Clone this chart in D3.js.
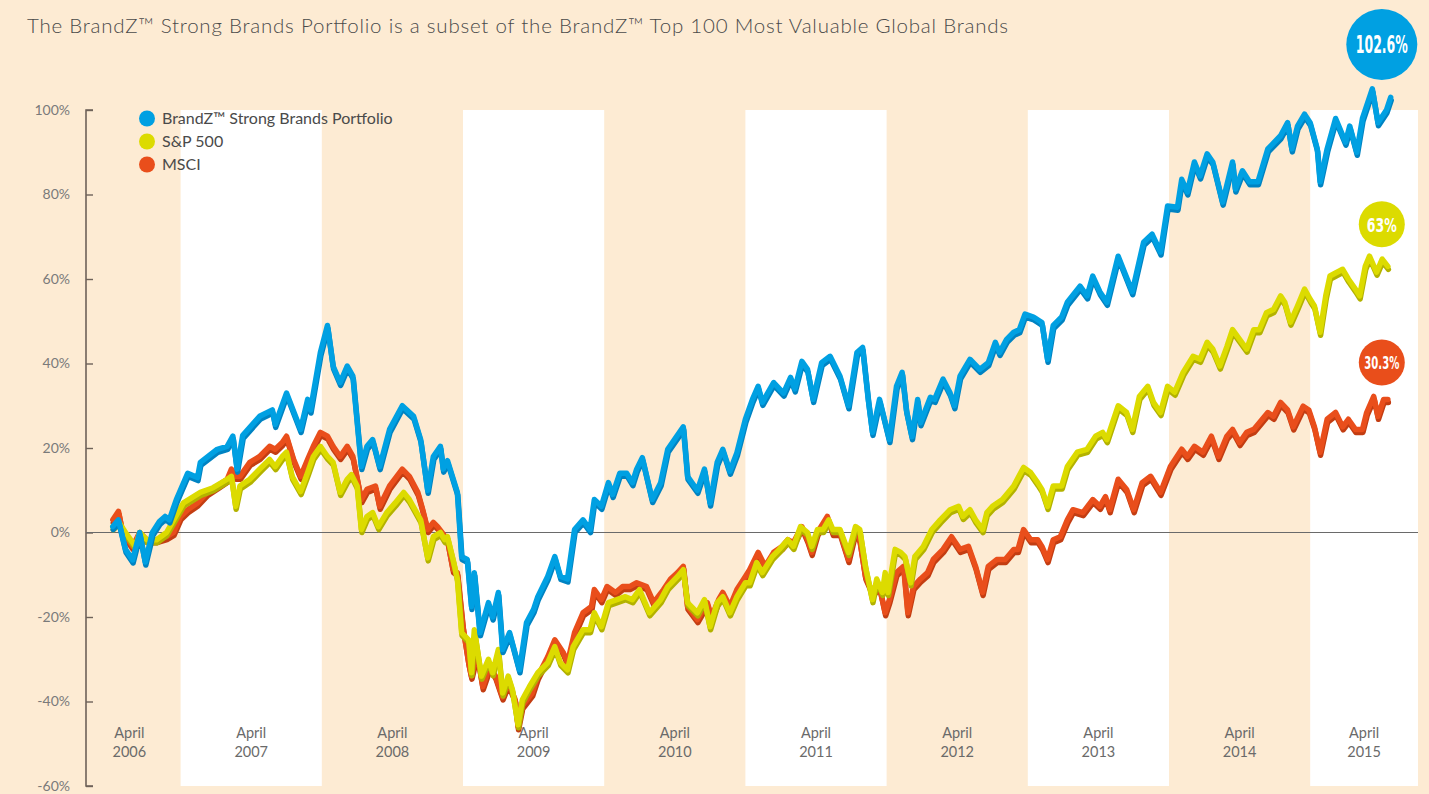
<!DOCTYPE html>
<html>
<head>
<meta charset="utf-8">
<script src="https://cdn.jsdelivr.net/npm/d3@7"></script>
<style>
  body { margin: 0; background: #fdebd3; }
  svg { display: block; }
</style>
</head>
<body>
<svg id="chart"></svg>
<script>
const title = "The BrandZ\u2122 Strong Brands Portfolio is a subset of the BrandZ\u2122 Top 100 Most Valuable Global Brands";

const yearLabels = [2006, 2007, 2008, 2009, 2010, 2011, 2012, 2013, 2014, 2015];
const whiteYears = [2007, 2009, 2011, 2013, 2015];
const yTicks = [100, 80, 60, 40, 20, 0, -20, -40, -60];

// [decimal year, % change since April 2006]
const brandz = [
  [2006.27,1.4],[2006.31,3],[2006.36,-4],[2006.41,-6.5],[2006.46,0],[2006.50,-7],[2006.55,0],[2006.60,2.6],
  [2006.64,3.8],[2006.67,3],[2006.72,7.8],[2006.80,14],[2006.87,13],[2006.89,16.6],[2007.01,19.7],[2007.08,20.4],
  [2007.12,22.8],[2007.15,15],[2007.19,23],[2007.31,27.5],[2007.40,29],[2007.42,25.6],[2007.50,33],[2007.60,24.4],
  [2007.65,31.5],[2007.67,29],[2007.74,42.6],[2007.79,49],[2007.83,39.4],[2007.88,35.5],[2007.93,39.4],[2007.97,37],
  [2008.03,15.6],[2008.07,20.4],[2008.11,22],[2008.16,15.6],[2008.23,24.4],[2008.32,30],[2008.40,27.5],[2008.45,22],
  [2008.50,10],[2008.54,18],[2008.59,20.4],[2008.61,15],[2008.64,17],[2008.71,9.5],[2008.74,-5.7],[2008.78,-6.4],
  [2008.81,-17.5],[2008.83,-9.5],[2008.87,-23.7],[2008.93,-16.6],[2008.96,-20],[2009.00,-14.2],[2009.03,-27.7],[2009.08,-23.7],
  [2009.15,-32.5],[2009.20,-21.3],[2009.25,-18.2],[2009.28,-15.2],[2009.35,-10.4],[2009.40,-5.7],[2009.44,-10.4],[2009.49,-11],
  [2009.54,0.7],[2009.60,3],[2009.65,0.7],[2009.68,7.8],[2009.73,6.2],[2009.78,11.8],[2009.81,9],[2009.86,14],
  [2009.91,14],[2009.95,11.8],[2009.98,15],[2010.02,17.7],[2010.09,7.8],[2010.15,11.8],[2010.20,19.7],[2010.31,25],
  [2010.34,13.3],[2010.41,10],[2010.46,15],[2010.50,7],[2010.55,16.6],[2010.59,19.7],[2010.64,14.5],[2010.69,18.9],
  [2010.75,26.8],[2010.80,31.5],[2010.84,34.6],[2010.87,30.8],[2010.95,35.5],[2011.02,33],[2011.07,36.7],[2011.10,34],
  [2011.15,40.5],[2011.19,38.6],[2011.23,31.5],[2011.29,40.2],[2011.35,41.7],[2011.42,37],[2011.48,30],[2011.54,42.6],
  [2011.58,43.8],[2011.62,31.5],[2011.65,23.7],[2011.70,31.5],[2011.77,22],[2011.82,34.6],[2011.86,37.9],[2011.89,29],
  [2011.93,22.7],[2011.97,31.5],[2011.99,26],[2012.06,32],[2012.09,31.5],[2012.15,36.3],[2012.20,33],[2012.23,30],
  [2012.27,37],[2012.34,41],[2012.41,38.6],[2012.47,40.2],[2012.52,45],[2012.55,42.6],[2012.60,45.7],[2012.65,47.4],
  [2012.69,48],[2012.73,51.7],[2012.79,51],[2012.85,49.7],[2012.89,41],[2012.93,49],[2012.99,51],[2013.03,54.5],
  [2013.12,58.3],[2013.17,56],[2013.21,60.7],[2013.26,57],[2013.31,54.5],[2013.39,65.4],[2013.49,57],[2013.57,68.7],
  [2013.63,70.6],[2013.69,66.4],[2013.74,77.3],[2013.81,77],[2013.84,83.6],[2013.88,80.6],[2013.93,87.7],[2013.97,84.4],
  [2014.02,89.6],[2014.06,87.7],[2014.13,78.2],[2014.20,87.7],[2014.22,81.3],[2014.27,85.6],[2014.32,83],[2014.38,83],
  [2014.45,90.8],[2014.54,93.9],[2014.59,97],[2014.62,90.8],[2014.66,96.2],[2014.71,99],[2014.75,97],[2014.80,90.8],
  [2014.82,83],[2014.87,90.8],[2014.93,98],[2015.00,92.4],[2015.03,96.2],[2015.08,90],[2015.12,98],[2015.19,105],
  [2015.23,97],[2015.29,100],[2015.32,103]
];

const sp500 = [
  [2006.27,1.4],[2006.31,2.6],[2006.36,0],[2006.43,-3.3],[2006.46,0],[2006.51,-1.7],[2006.58,-1.7],[2006.65,0],
  [2006.77,7],[2006.89,9.5],[2006.98,10.6],[2007.08,12.6],[2007.11,13.3],[2007.14,6.2],[2007.17,11],[2007.24,12.6],
  [2007.31,15],[2007.38,17.3],[2007.42,15.6],[2007.47,18],[2007.50,19],[2007.54,13.3],[2007.60,9.7],[2007.65,14.2],
  [2007.69,18],[2007.74,20.4],[2007.79,18],[2007.83,16.6],[2007.88,9.5],[2007.93,12.6],[2007.96,13.7],[2008.00,11],
  [2008.03,0.7],[2008.07,3.8],[2008.11,4.7],[2008.15,1.4],[2008.21,4.7],[2008.27,7],[2008.33,9.5],[2008.37,7.8],
  [2008.45,3],[2008.50,-6],[2008.54,-1],[2008.59,0],[2008.62,-1.7],[2008.64,-1],[2008.68,-6.4],[2008.71,-11],
  [2008.74,-23.7],[2008.79,-25.4],[2008.81,-33.2],[2008.83,-23],[2008.88,-34],[2008.93,-30],[2008.96,-33.2],[2009.00,-27.7],
  [2009.03,-38],[2009.07,-34],[2009.10,-37.2],[2009.14,-45.5],[2009.17,-39.6],[2009.22,-36.5],[2009.28,-33.2],[2009.35,-30.8],
  [2009.40,-27],[2009.44,-30.8],[2009.49,-32.5],[2009.53,-27],[2009.60,-23],[2009.65,-23],[2009.68,-19],[2009.73,-22.3],
  [2009.78,-16.6],[2009.84,-15.9],[2009.90,-15.2],[2009.95,-15.9],[2010.00,-13.5],[2010.07,-19],[2010.15,-15.9],[2010.20,-12.8],
  [2010.27,-10.4],[2010.31,-8.8],[2010.34,-16.6],[2010.41,-19],[2010.46,-15.9],[2010.50,-22.3],[2010.55,-16.6],[2010.59,-15.2],
  [2010.64,-19],[2010.69,-15.2],[2010.75,-11.9],[2010.78,-11.9],[2010.83,-7.1],[2010.87,-9.5],[2010.94,-5.7],[2010.99,-4],
  [2011.05,-1.7],[2011.09,-3.3],[2011.14,1.4],[2011.19,0],[2011.22,-3.3],[2011.26,0.7],[2011.30,0.7],[2011.34,3],
  [2011.37,0.7],[2011.42,0.7],[2011.48,-4.7],[2011.53,1.4],[2011.56,0.7],[2011.60,-8],[2011.65,-15.9],[2011.68,-11],
  [2011.72,-14.2],[2011.74,-9.5],[2011.76,-14.2],[2011.81,-4],[2011.85,-4.7],[2011.88,-5.7],[2011.92,-11.9],[2011.95,-5.7],
  [2012.01,-3.3],[2012.07,0.7],[2012.13,3],[2012.20,5.4],[2012.26,6.2],[2012.29,3.8],[2012.34,5.4],[2012.38,3],
  [2012.43,0.7],[2012.46,4.7],[2012.50,6.2],[2012.57,7.8],[2012.65,11],[2012.72,15.4],[2012.77,14.2],[2012.82,11.8],
  [2012.85,10.2],[2012.89,6.2],[2012.93,11],[2012.99,11],[2013.03,15.6],[2013.10,19],[2013.17,19.7],[2013.23,22.8],
  [2013.28,23.7],[2013.31,22],[2013.35,26],[2013.39,30],[2013.45,28.4],[2013.49,24.4],[2013.54,32.2],[2013.60,34.6],
  [2013.64,30.8],[2013.69,28.4],[2013.74,34.6],[2013.79,33.2],[2013.85,37.9],[2013.92,41.7],[2013.97,41],[2014.02,45],
  [2014.06,43.4],[2014.11,39.4],[2014.16,44],[2014.20,48],[2014.25,45.7],[2014.30,43.4],[2014.35,48],[2014.39,48],
  [2014.44,52],[2014.49,52.8],[2014.54,56],[2014.57,54.5],[2014.61,49.8],[2014.66,53.6],[2014.71,57.6],[2014.75,55.2],
  [2014.78,53.6],[2014.82,47.4],[2014.86,56],[2014.89,60.7],[2014.94,61.6],[2014.98,62.3],[2015.02,60],[2015.07,57.6],
  [2015.10,56],[2015.14,63],[2015.17,65.4],[2015.22,61.6],[2015.26,64.7],[2015.30,63]
];

const msci = [
  [2006.27,3],[2006.31,5],[2006.34,0],[2006.41,-3.3],[2006.46,0],[2006.51,-1.7],[2006.58,-1.7],[2006.65,-1],
  [2006.70,0],[2006.75,3.8],[2006.80,5.4],[2006.87,7],[2006.94,9.5],[2007.01,11],[2007.08,12.6],[2007.11,15],
  [2007.14,13.3],[2007.17,13.3],[2007.24,16.6],[2007.31,18],[2007.38,20.4],[2007.42,19.7],[2007.47,21.3],[2007.50,22.8],
  [2007.55,17.3],[2007.60,13.3],[2007.65,17.3],[2007.69,20.4],[2007.74,23.7],[2007.79,22.8],[2007.83,20.4],[2007.88,18],
  [2007.93,20.4],[2007.97,18],[2008.03,7.8],[2008.07,10.2],[2008.13,11],[2008.16,6.2],[2008.23,11],[2008.32,15],
  [2008.37,13.3],[2008.43,9.5],[2008.46,6],[2008.50,0.7],[2008.54,2.4],[2008.57,1.4],[2008.64,-1.7],[2008.68,-8.8],
  [2008.71,-9.5],[2008.75,-22.3],[2008.79,-30.8],[2008.81,-34],[2008.85,-28.4],[2008.89,-36.5],[2008.94,-31.6],[2008.98,-34],
  [2009.03,-38.9],[2009.07,-35.6],[2009.12,-39.6],[2009.14,-46],[2009.17,-41],[2009.24,-38],[2009.28,-34],[2009.35,-29.4],
  [2009.40,-25.4],[2009.46,-28.4],[2009.49,-30.8],[2009.54,-23.7],[2009.60,-19],[2009.66,-17.5],[2009.68,-13.5],[2009.73,-15.9],
  [2009.77,-12.8],[2009.83,-14.2],[2009.88,-12.8],[2009.93,-12.8],[2009.98,-11.9],[2010.05,-12.8],[2010.10,-16.6],[2010.17,-13.5],
  [2010.22,-11],[2010.27,-9.5],[2010.31,-8],[2010.34,-17.5],[2010.41,-20.6],[2010.48,-16.6],[2010.51,-20],[2010.56,-15.9],
  [2010.59,-14.2],[2010.64,-17.5],[2010.69,-13.5],[2010.75,-10.4],[2010.78,-8.8],[2010.84,-4.7],[2010.89,-8],[2010.95,-4.7],
  [2011.01,-3.3],[2011.05,-1.7],[2011.09,-2.4],[2011.15,1.4],[2011.19,-1.7],[2011.22,-4.7],[2011.26,0],[2011.33,3.8],
  [2011.37,0],[2011.42,0],[2011.48,-6.4],[2011.53,0.7],[2011.56,-1.7],[2011.60,-10.4],[2011.65,-14.2],[2011.70,-12.8],
  [2011.74,-19],[2011.77,-15.9],[2011.82,-9.5],[2011.87,-8],[2011.90,-19],[2011.94,-12.8],[2011.99,-11],[2012.04,-9.5],
  [2012.08,-6.4],[2012.15,-4],[2012.21,-1],[2012.27,-4],[2012.33,-3.3],[2012.38,-8],[2012.43,-14.2],[2012.47,-8],
  [2012.53,-6.4],[2012.59,-6.4],[2012.65,-4],[2012.68,-4],[2012.72,0.7],[2012.77,-1.7],[2012.82,-1.7],[2012.85,-3.3],
  [2012.89,-6.4],[2012.93,-1.7],[2012.98,-1],[2013.03,3],[2013.07,5.4],[2013.14,4.7],[2013.21,7.8],[2013.26,6.2],
  [2013.30,8.5],[2013.33,5.4],[2013.39,12.6],[2013.45,10.2],[2013.50,5.4],[2013.56,11.8],[2013.62,13.3],[2013.69,9.5],
  [2013.76,15.6],[2013.84,19.7],[2013.88,18],[2013.93,20.4],[2013.99,19],[2014.05,22.8],[2014.10,18],[2014.16,22.8],
  [2014.20,24.4],[2014.25,21.3],[2014.30,23.7],[2014.35,24.4],[2014.39,26],[2014.45,28.4],[2014.49,27.5],[2014.54,30.8],
  [2014.59,29],[2014.63,25],[2014.70,29.9],[2014.74,29],[2014.78,25],[2014.82,19],[2014.87,26.8],[2014.93,28.4],
  [2014.98,25],[2015.02,26.8],[2015.07,24.4],[2015.12,24.4],[2015.15,28.4],[2015.20,32.2],[2015.23,27.5],[2015.27,31.5],
  [2015.30,31.5]
];

const seriesNames = ["BrandZ\u2122 Strong Brands Portfolio", "S&P 500", "MSCI"];
const finalLabels = ["102.6%", "63%", "30.3%"];
const finalValues = [102.6, 63, 30.3];

const width = 1429, height = 794;
const plotLeft = 86, plotRight = 1418, plotTop = 110, plotBottom = 786;

const series = [
  { name: seriesNames[0], data: brandz, color: "#00a0e2", shadow: "#0083c2", label: finalLabels[0], value: finalValues[0], r: 35.5, fs: 24, tw: 52 },
  { name: seriesNames[1], data: sp500,  color: "#dcdb00", shadow: "#b3b200", label: finalLabels[1], value: finalValues[1], r: 23, fs: 20, tw: 30 },
  { name: seriesNames[2], data: msci,   color: "#e94e1b", shadow: "#c33d12", label: finalLabels[2], value: finalValues[2], r: 23, fs: 18, tw: 35 }
];

const svg = d3.select("#chart")
              .attr("width", width)
              .attr("height", height)
              .style("background-color", "#fdebd3");

const x = d3.scaleLinear().domain([2006.25, 2015.25]).range([110, 1380.8]);
const y = d3.scaleLinear().domain([-60, 100]).range([plotBottom, plotTop]);

// title
svg.append("text")
   .attr("x", 27).attr("y", 33)
   .attr("font-family", "Lato, sans-serif")
   .attr("font-weight", 300)
   .attr("font-size", 20.5)
   .attr("fill", "#4a4a4a")
   .attr("textLength", 981)
   .attr("lengthAdjust", "spacing")
   .text(title);

// white year bands
svg.append("g")
   .selectAll("rect")
   .data(whiteYears)
   .enter().append("rect")
           .attr("x", d => x(d - 0.25))
           .attr("width", d => Math.min(plotRight, x(d + 0.75)) - x(d - 0.25))
           .attr("y", plotTop)
           .attr("height", plotBottom - plotTop)
           .attr("fill", "#ffffff");

// year labels, centred in the visible part of each band
const labelX = d => (Math.max(plotLeft - 8, x(d - 0.25)) + Math.min(plotRight, x(d + 0.75))) / 2;
const xl = svg.append("g")
              .attr("font-family", "Lato, sans-serif")
              .attr("font-size", 14.5)
              .attr("fill", "#6a6a6a")
              .attr("text-anchor", "middle");
xl.selectAll(".m").data(yearLabels).enter().append("text")
  .attr("x", labelX).attr("y", 738).text("April");
xl.selectAll(".yr").data(yearLabels).enter().append("text")
  .attr("x", labelX).attr("y", 757).text(d => d);

// y axis
const yAxis = svg.append("g")
                 .attr("transform", `translate(${plotLeft},0)`)
                 .call(d3.axisRight(y).tickValues(yTicks).tickSize(7).tickFormat(d => d + "%"));
yAxis.select(".domain").attr("stroke", "#6e6259").attr("stroke-width", 1.6)
     .attr("d", `M7,${plotTop}H0V${plotBottom}H7`);
yAxis.selectAll(".tick line").attr("stroke", "#6e6259").attr("stroke-width", 1.4);
yAxis.selectAll(".tick text")
     .attr("x", -16).attr("text-anchor", "end")
     .attr("font-family", "Lato, sans-serif").attr("font-size", 14)
     .attr("fill", "#7a7a7a");

// zero line
svg.append("line")
   .attr("x1", plotLeft).attr("x2", plotRight)
   .attr("y1", y(0)).attr("y2", y(0))
   .attr("stroke", "#6a6a6a").attr("stroke-width", 1.2);

const line = d3.line().x(d => x(d[0])).y(d => y(d[1]));

// draw MSCI first, then S&P, then BrandZ on top
const drawOrder = [series[2], series[1], series[0]];
const lines = svg.append("g");
drawOrder.forEach(s => {
  lines.append("path")
       .datum(s.data)
       .attr("d", line)
       .attr("transform", "translate(0.5,3)")
       .attr("fill", "none")
       .attr("stroke", s.shadow)
       .attr("stroke-width", 5.5)
       .attr("stroke-linejoin", "round")
       .attr("stroke-linecap", "round");
  lines.append("path")
       .datum(s.data)
       .attr("d", line)
       .attr("fill", "none")
       .attr("stroke", s.color)
       .attr("stroke-width", 5.5)
       .attr("stroke-linejoin", "round")
       .attr("stroke-linecap", "round");
});

// end bubbles, text squeezed horizontally to look condensed
series.forEach(s => {
  const cx = x(2015.25) + 1;
  const cy = y(s.value) - s.r - 19;
  svg.append("circle").attr("cx", cx).attr("cy", cy).attr("r", s.r).attr("fill", s.color);
  const g = svg.append("g").attr("transform", `translate(${cx},${cy})`);
  const t = g.append("text")
             .attr("dy", "0.36em")
             .attr("text-anchor", "middle")
             .attr("font-family", "'Liberation Sans Narrow', 'DejaVu Sans Condensed', sans-serif")
             .attr("font-weight", "bold")
             .attr("font-size", s.fs)
             .attr("fill", "#ffffff")
             .text(s.label);
  const len = t.node().getComputedTextLength();
  if (len > s.tw) t.attr("transform", `scale(${s.tw / len},1)`);
});

// legend
const legend = svg.append("g")
                  .selectAll("g")
                  .data(series)
                  .enter().append("g")
                          .attr("transform", (d, i) => `translate(147,${118.5 + i * 23})`);
legend.append("circle").attr("r", 8).attr("fill", d => d.color);
legend.append("text")
      .attr("x", 15).attr("dy", "0.35em")
      .attr("font-family", "Lato, sans-serif")
      .attr("font-size", 16)
      .attr("fill", "#4a4a4a")
      .text(d => d.name);
</script>
</body>
</html>
